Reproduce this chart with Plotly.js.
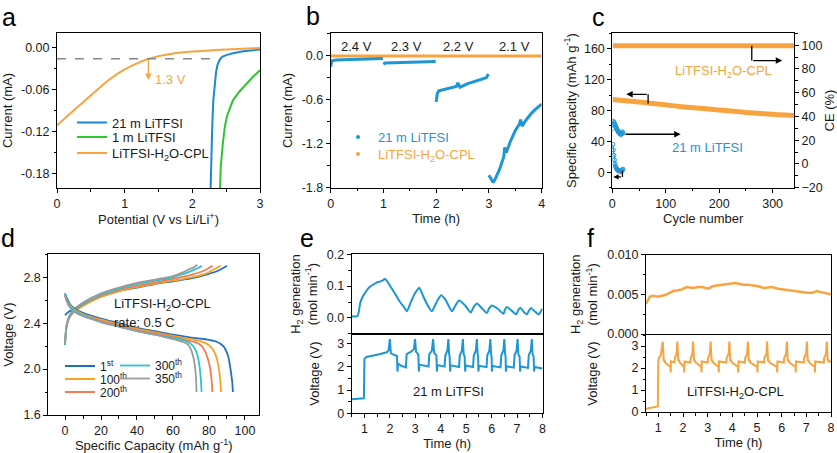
<!DOCTYPE html>
<html><head><meta charset="utf-8">
<script src="https://cdn.plot.ly/plotly-3.0.1.min.js"></script>
<style>html,body{margin:0;padding:0;background:#fff;}#chart{width:837px;height:453px;}</style>
</head><body><div id="chart"></div>
<script>
// ---------- Panel a: LSV ----------
const aBlueV   = [2.27, 2.28, 2.295, 2.31, 2.33, 2.35, 2.37, 2.40, 2.44, 2.50, 2.60, 2.75, 3.00];
const aBlueI   = [-0.200, -0.150, -0.110, -0.075, -0.050, -0.035, -0.025, -0.018, -0.013, -0.0105, -0.008, -0.005, -0.0025];
const aGreenV  = [2.41, 2.42, 2.45, 2.48, 2.51, 2.55, 2.60, 2.70, 2.80, 2.90, 3.00];
const aGreenI  = [-0.200, -0.170, -0.137, -0.113, -0.098, -0.088, -0.075, -0.062, -0.051, -0.041, -0.032];
const aOrangeV = [0, 0.2, 0.4, 0.6, 0.8, 1.0, 1.2, 1.35, 1.5, 1.7, 2.0, 2.5, 3.0];
const aOrangeI = [-0.1105, -0.0935, -0.0765, -0.0595, -0.0435, -0.031, -0.0215, -0.016, -0.012, -0.0085, -0.0055, -0.0025, -0.0005];
const aOnsetI = -0.0157, aOnsetV = 1.35;
const aYTicks = [-0.18, -0.12, -0.06, 0];
const aYText  = ['-0.18', '-0.12', '-0.06', '0.00'];

// ---------- Panel b: chronoamperometry ----------
const bTime21 = [0, 0.02, 0.1, 0.3, 0.5, 0.7, 0.99, null, 1.0, 1.03, 1.2, 1.5, 1.8, 1.99, null,
  2.0, 2.02, 2.05, 2.15, 2.3, 2.38, 2.41, 2.45, 2.6, 2.8, 2.95, 2.99, null,
  3.0, 3.05, 3.08, 3.12, 3.2, 3.28, 3.3, 3.33, 3.4, 3.5, 3.58, 3.6, 3.63, 3.7, 3.8, 3.9, 4.0];
const bCurr21 = [-0.15, -0.07, -0.06, -0.055, -0.05, -0.045, -0.04, null, -0.12, -0.10, -0.095, -0.09, -0.085, -0.08, null,
  -0.63, -0.52, -0.48, -0.46, -0.44, -0.42, -0.37, -0.43, -0.38, -0.33, -0.30, -0.25, null,
  -1.63, -1.70, -1.73, -1.68, -1.55, -1.38, -1.25, -1.32, -1.18, -1.02, -0.93, -0.87, -0.96, -0.88, -0.79, -0.72, -0.66];
const bTimeCPL = [0, 0.5, 1, 1.5, 2, 2.5, 3, 3.5, 4];
const bCurrCPL = [-0.006, -0.006, -0.006, -0.006, -0.006, -0.006, -0.006, -0.006, -0.006];
const bStepLabels = ['2.4 V', '2.3 V', '2.2 V', '2.1 V'];
const bStepTimes  = [0.48, 1.44, 2.42, 3.49];
const bYTicks = [-1.8, -1.2, -0.6, 0];
const bYText  = ['-1.8', '-1.2', '-0.6', '0.0'];

// ---------- Panel c: cycling ----------
const cCycleCPL = [1, 10, 25, 50, 70, 90, 130, 170, 210, 250, 290, 340];
const cCapCPL   = [94.5, 93.5, 92.5, 91, 89.5, 88, 85, 82.5, 80, 77.5, 75.5, 73.5];
const cCECycleCPL = [1, 50, 100, 150, 200, 250, 300, 340];
const cCECPL      = [99.6, 99.6, 99.6, 99.6, 99.6, 99.6, 99.6, 99.6];
const c21Cycle = [1, 2, 3, 4, 5, 6, 7, 8, 9, 10, 11, 12, 13, 14, 15, 16, 17, 18, 19, 20];
const c21Cap   = [36, 29, 22, 16, 11, 8, 6, 4.5, 3.5, 3, 2.5, 2, 2, 1.5, 1.5, 1.5, 1.5, 2, 3, 4];
const c21CE    = [30, 36, 35, 34, 33, 32, 31, 30, 29, 28, 27, 27, 26, 26, 25, 25, 25, 26, 27, 26];

// ---------- Panel d: charge/discharge profiles ----------
const dNames = ['1<sup>st</sup>', '100<sup>th</sup>', '200<sup>th</sup>', '300<sup>th</sup>', '350<sup>th</sup>'];
const dDisCap = [
  [0, 1, 3, 6, 10, 20, 30, 40, 50, 60, 70, 78, 84, 88, 90.5, 92, 93, 93.3],
  [0, 1, 3, 6, 10, 20, 30, 40, 50, 60, 70, 76, 80, 83, 85, 86.2, 86.7],
  [0, 1, 3, 6, 10, 20, 30, 40, 50, 60, 68, 73, 76, 78.5, 80.5, 81.5, 81.9],
  [0, 1, 3, 6, 10, 20, 30, 40, 50, 60, 66, 70, 72.5, 74.2, 75.3, 75.9],
  [0, 1, 3, 6, 10, 20, 30, 40, 50, 60, 65, 68.5, 70.5, 72, 72.8, 73.1]];
const dDisV = [
  [2.66, 2.62, 2.56, 2.52, 2.49, 2.44, 2.40, 2.36, 2.33, 2.30, 2.275, 2.26, 2.24, 2.20, 2.12, 2.00, 1.88, 1.80],
  [2.65, 2.60, 2.55, 2.51, 2.48, 2.43, 2.39, 2.35, 2.32, 2.29, 2.26, 2.24, 2.21, 2.15, 2.05, 1.92, 1.80],
  [2.64, 2.59, 2.54, 2.50, 2.47, 2.42, 2.38, 2.34, 2.31, 2.28, 2.25, 2.23, 2.20, 2.13, 2.02, 1.90, 1.80],
  [2.66, 2.60, 2.54, 2.50, 2.47, 2.41, 2.37, 2.33, 2.30, 2.27, 2.25, 2.22, 2.17, 2.08, 1.95, 1.80],
  [2.65, 2.59, 2.53, 2.49, 2.46, 2.41, 2.37, 2.33, 2.30, 2.26, 2.24, 2.21, 2.15, 2.05, 1.92, 1.80]];
const dChCap = [
  [0, 2, 5, 10, 20, 30, 40, 50, 60, 70, 78, 84, 88, 90],
  [0, 1, 2.5, 5, 10, 20, 30, 40, 50, 60, 70, 78, 83, 86.5],
  [0, 1, 2.5, 5, 10, 20, 30, 40, 50, 60, 70, 76, 80, 82],
  [0, 1, 2.5, 5, 10, 20, 30, 40, 50, 60, 66, 71, 74, 76],
  [0, 1, 2.5, 5, 10, 20, 30, 40, 50, 60, 65, 69, 72, 73.5]];
const dChV = [
  [2.47, 2.50, 2.52, 2.56, 2.63, 2.68, 2.71, 2.74, 2.765, 2.79, 2.82, 2.85, 2.88, 2.90],
  [2.22, 2.38, 2.45, 2.50, 2.55, 2.63, 2.68, 2.715, 2.745, 2.77, 2.80, 2.83, 2.87, 2.90],
  [2.21, 2.38, 2.45, 2.50, 2.56, 2.64, 2.69, 2.725, 2.755, 2.785, 2.82, 2.85, 2.88, 2.90],
  [2.21, 2.39, 2.46, 2.51, 2.57, 2.65, 2.70, 2.74, 2.77, 2.80, 2.83, 2.86, 2.88, 2.90],
  [2.22, 2.40, 2.47, 2.52, 2.58, 2.66, 2.71, 2.75, 2.78, 2.81, 2.84, 2.87, 2.89, 2.91]];
const dColors = ['#1f70c1', '#f5a320', '#f57a55', '#29c3d3', '#9b9b9b'];
const dYTicks = [1.6, 2.0, 2.4, 2.8];
const dYText  = ['1.6', '2.0', '2.4', '2.8'];

// ---------- Panel e: 21 m LiTFSI, H2 + voltage ----------
const eH2Time = [0.5, 0.72, 0.78, 0.83, 0.92, 1.02, 1.12, 1.22, 1.35, 1.48, 1.6, 1.74, 1.8, 1.87, 2.07, 2.25, 2.4, 2.55, 2.67,
  2.8, 2.95, 3.05, 3.16, 3.3, 3.45, 3.65, 3.75, 3.88, 4.02, 4.2, 4.44, 4.55, 4.72, 4.95, 5.18, 5.28, 5.42, 5.6, 5.81,
  5.9, 6.01, 6.25, 6.47, 6.52, 6.6, 6.8, 6.97, 7.05, 7.13, 7.25, 7.39, 7.46, 7.55, 7.7, 7.85, 7.93, 8.0];
const eH2 = [0.005, 0.005, 0.02, 0.045, 0.065, 0.078, 0.09, 0.098, 0.105, 0.111, 0.114, 0.119, 0.123, 0.118, 0.093, 0.07, 0.05, 0.035, 0.021,
  0.045, 0.072, 0.085, 0.095, 0.07, 0.045, 0.021, 0.035, 0.056, 0.071, 0.055, 0.021, 0.035, 0.055, 0.04, 0.017, 0.032, 0.045, 0.032, 0.015,
  0.03, 0.039, 0.028, 0.013, 0.025, 0.034, 0.022, 0.011, 0.025, 0.032, 0.02, 0.011, 0.022, 0.031, 0.02, 0.011, 0.02, 0.029];
const eVTime = [0.5, 0.98, 1.0, 1.08, 1.5, 1.88, 1.95, 2.0, 2.04, 2.1, 2.28, 2.3, 2.32, 2.45, 2.63, 2.66, 2.85, 2.95, 2.99,
  3.03, 3.12, 3.14, 3.16, 3.52, 3.55, 3.65, 3.7, 3.74, 3.83, 3.85, 3.87, 4.15, 4.18, 4.26, 4.3,
  4.33, 4.35, 4.37, 4.39, 4.72, 4.75, 4.83, 4.87, 4.9, 4.94, 4.96, 4.98, 5.27, 5.3, 5.38, 5.42,
  5.45, 5.47, 5.48, 5.5, 5.8, 5.83, 5.91, 5.95, 5.98, 6.0, 6.01, 6.03, 6.35, 6.38, 6.46, 6.5,
  6.53, 6.55, 6.56, 6.58, 6.87, 6.9, 6.98, 7.02, 7.05, 7.1, 7.12, 7.14, 7.43, 7.46, 7.54, 7.58,
  7.61, 7.65, 7.67, 7.69, 8.0];
const eV = [0.61, 0.65, 2.35, 2.43, 2.53, 2.63, 2.72, 3.2, 2.6, 2.55, 2.47, 1.8, 2.15, 2.05, 1.98, 2.55, 2.67, 2.78, 3.2,
  2.65, 2.55, 1.8, 2.1, 2.02, 2.55, 2.7, 3.2, 2.6, 2.5, 1.8, 2.08, 2.02, 2.5, 2.7, 3.2,
  2.55, 2.45, 1.8, 2.07, 2.0, 2.5, 2.7, 3.2, 2.55, 2.45, 1.8, 2.06, 2.0, 2.5, 2.7, 3.2,
  2.55, 2.45, 1.8, 2.05, 1.99, 2.5, 2.7, 3.2, 2.55, 2.45, 1.8, 2.04, 1.98, 2.5, 2.7, 3.2,
  2.55, 2.45, 1.8, 2.03, 1.97, 2.5, 2.7, 3.2, 2.55, 2.45, 1.8, 2.02, 1.96, 2.5, 2.7, 3.2,
  2.55, 2.45, 1.8, 2.0, 1.93];
const eYTicksH2 = [0, 0.1, 0.2];
const eYTextH2  = ['0.0', '0.1', '0.2'];

// ---------- Panel f: LiTFSI-H2O-CPL, H2 + voltage ----------
const fH2Time = [0.5, 0.58, 0.66, 0.8, 1.0, 1.27, 1.45, 1.61, 1.8, 1.95, 2.15, 2.3, 2.42, 2.6, 2.76, 3.03, 3.2, 3.37, 3.6, 3.78,
  3.95, 4.12, 4.3, 4.46, 4.66, 4.86, 5.05, 5.27, 5.45, 5.61, 5.85, 6.08, 6.35, 6.63, 6.85, 7.03, 7.25, 7.44, 7.55, 7.71, 7.85, 8.0];
const fH2 = [0.0038, 0.0043, 0.0047, 0.0048, 0.0047, 0.0049, 0.0052, 0.0054, 0.0055, 0.0056, 0.0059, 0.0058, 0.0058, 0.0059, 0.0059, 0.0057, 0.006, 0.0061, 0.0062, 0.0062,
  0.0063, 0.0064, 0.0063, 0.0062, 0.0062, 0.0061, 0.006, 0.0058, 0.0059, 0.0059, 0.0057, 0.0056, 0.0055, 0.0054, 0.0053, 0.0052, 0.0052, 0.0054, 0.0053, 0.0052, 0.0051, 0.005];
const fVTime = [0.5, 0.98, 1.0, 1.1, 1.18,
  1.22, 1.25, 1.28, 1.49, 1.5, 1.51, 1.66, 1.67, 1.74, 1.77,
  1.81, 1.84, 1.87, 2.04, 2.05, 2.06, 2.3, 2.31, 2.38, 2.41,
  2.45, 2.48, 2.51, 2.74, 2.75, 2.76, 3.0, 3.01, 3.09, 3.12,
  3.16, 3.19, 3.22, 3.44, 3.45, 3.46, 3.76, 3.77, 3.85, 3.88,
  3.92, 3.95, 3.98, 4.23, 4.24, 4.25, 4.51, 4.52, 4.6, 4.63,
  4.67, 4.7, 4.73, 5.01, 5.02, 5.03, 5.29, 5.3, 5.38, 5.41,
  5.45, 5.48, 5.51, 5.81, 5.82, 5.83, 6.09, 6.1, 6.18, 6.21,
  6.25, 6.28, 6.31, 6.56, 6.57, 6.58, 6.9, 6.91, 6.99, 7.02,
  7.06, 7.09, 7.12, 7.34, 7.35, 7.36, 7.71, 7.72, 7.8, 7.83,
  7.87, 7.9, 7.93, 8.0];
const fV = [0.15, 0.25, 2.4, 2.6, 3.2,
  2.3, 2.38, 2.25, 2.05, 1.8, 2.3, 2.25, 2.45, 2.65, 3.2,
  2.3, 2.38, 2.25, 2.05, 1.8, 2.3, 2.25, 2.45, 2.65, 3.2,
  2.3, 2.38, 2.25, 2.05, 1.8, 2.3, 2.25, 2.45, 2.65, 3.2,
  2.3, 2.38, 2.25, 2.05, 1.8, 2.3, 2.25, 2.45, 2.65, 3.2,
  2.3, 2.38, 2.25, 2.05, 1.8, 2.3, 2.25, 2.45, 2.65, 3.2,
  2.3, 2.38, 2.25, 2.05, 1.8, 2.3, 2.25, 2.45, 2.65, 3.2,
  2.3, 2.38, 2.25, 2.05, 1.8, 2.3, 2.25, 2.45, 2.65, 3.2,
  2.3, 2.38, 2.25, 2.05, 1.8, 2.3, 2.25, 2.45, 2.65, 3.2,
  2.3, 2.38, 2.25, 2.05, 1.8, 2.3, 2.25, 2.45, 2.65, 3.2,
  2.3, 2.38, 2.28, 2.28];
const fYTicksH2 = [0, 0.005, 0.01];
const fYTextH2  = ['0.000', '0.005', '0.010'];
const timeTicks = [1, 2, 3, 4, 5, 6, 7, 8];

// ---------- styling ----------
const W = 837, H = 453;
const BLUE = '#1c96d4', GREEN = '#2fc52f', ORANGE = '#f7a440', INK = '#1a1a1a';
const FONT = 'Liberation Sans, Arial, Helvetica, sans-serif';
const X = (a, b) => [a / W, b / W];
const Y = (t, b) => [1 - b / H, 1 - t / H];
function ax(o) {
  return Object.assign({
    showline: true, linecolor: '#000', linewidth: 1, mirror: true,
    ticks: 'outside', ticklen: 4, tickwidth: 1, tickcolor: '#000',
    showgrid: false, zeroline: false, automargin: false, fixedrange: true,
    tickfont: {size: 12.5, color: INK}
  }, o);
}
function mn(d) { return {ticks: 'outside', ticklen: 2.5, tickwidth: 1, tickcolor: '#000', dtick: d, showgrid: false}; }
function ttl(t, s) { return {text: t, standoff: s, font: {size: 13, color: INK}}; }
function leg(xpx, ypx, color, size) {
  return {bgcolor: 'rgba(0,0,0,0)', borderwidth: 0, xanchor: 'left', yanchor: 'middle', itemwidth: 30,
    tracegroupgap: 0, itemclick: false, itemdoubleclick: false,
    x: xpx / W, y: 1 - ypx / H, font: {size: size || 13, color: color, family: FONT}};
}

const traces = [];
// a
traces.push({x: aBlueV, y: aBlueI, xaxis: 'x', yaxis: 'y', mode: 'lines', name: '21 m LiTFSI', line: {color: '#1a8ad0', width: 2}, legend: 'legend'});
traces.push({x: aGreenV, y: aGreenI, xaxis: 'x', yaxis: 'y', mode: 'lines', name: '1 m LiTFSI', line: {color: GREEN, width: 2}, legend: 'legend6'});
traces.push({x: aOrangeV, y: aOrangeI, xaxis: 'x', yaxis: 'y', mode: 'lines', name: 'LiTFSI-H<sub>2</sub>O-CPL', line: {color: ORANGE, width: 2, shape: 'spline'}, legend: 'legend7'});
// b
traces.push({x: bTimeCPL, y: bCurrCPL, xaxis: 'x2', yaxis: 'y2', mode: 'lines', line: {color: ORANGE, width: 3}, showlegend: false});
traces.push({x: bTime21, y: bCurr21, xaxis: 'x2', yaxis: 'y2', mode: 'lines', line: {color: BLUE, width: 3}, showlegend: false});
traces.push({x: [null], y: [null], xaxis: 'x2', yaxis: 'y2', mode: 'markers', marker: {color: BLUE, size: 4}, name: '21 m LiTFSI', legend: 'legend2'});
traces.push({x: [null], y: [null], xaxis: 'x2', yaxis: 'y2', mode: 'markers', marker: {color: ORANGE, size: 4}, name: 'LiTFSI-H<sub>2</sub>O-CPL', legend: 'legend3'});
// c
traces.push({x: cCECycleCPL, y: cCECPL, xaxis: 'x3', yaxis: 'y4', mode: 'lines', line: {color: ORANGE, width: 5}, showlegend: false});
traces.push({x: cCycleCPL, y: cCapCPL, xaxis: 'x3', yaxis: 'y3', mode: 'lines', line: {color: ORANGE, width: 5, shape: 'spline'}, showlegend: false});
traces.push({x: c21Cycle, y: c21Cap, xaxis: 'x3', yaxis: 'y3', mode: 'lines+markers', line: {color: BLUE, width: 1}, marker: {color: BLUE, size: 4, symbol: 'circle-open', line: {width: 1}}, showlegend: false});
traces.push({x: c21Cycle, y: c21CE, xaxis: 'x3', yaxis: 'y4', mode: 'lines+markers', line: {color: BLUE, width: 1}, marker: {color: BLUE, size: 4, symbol: 'circle-open', line: {width: 1}}, showlegend: false});
// d
for (let i = 0; i < 5; i++) {
  traces.push({x: dChCap[i], y: dChV[i], xaxis: 'x4', yaxis: 'y5', mode: 'lines', line: {color: dColors[i], width: 1.8, shape: 'spline'}, showlegend: false});
}
const dLegends = ['legend4', 'legend5', 'legend8', 'legend9', 'legend10'];
for (let i = 0; i < 5; i++) {
  traces.push({x: dDisCap[i], y: dDisV[i], xaxis: 'x4', yaxis: 'y5', mode: 'lines', name: dNames[i], line: {color: dColors[i], width: 1.8, shape: 'spline'}, legend: dLegends[i]});
}
// e
traces.push({x: eH2Time, y: eH2, xaxis: 'x5', yaxis: 'y6', mode: 'lines', line: {color: BLUE, width: 2, shape: 'spline', smoothing: 0.6}, showlegend: false});
traces.push({x: eVTime, y: eV, xaxis: 'x6', yaxis: 'y7', mode: 'lines', line: {color: BLUE, width: 2}, showlegend: false});
// f
traces.push({x: fH2Time, y: fH2, xaxis: 'x7', yaxis: 'y8', mode: 'lines', line: {color: ORANGE, width: 2.5}, showlegend: false});
traces.push({x: fVTime, y: fV, xaxis: 'x8', yaxis: 'y9', mode: 'lines', line: {color: ORANGE, width: 2}, showlegend: false});

const layout = {
  width: W, height: H, margin: {l: 0, r: 0, t: 0, b: 0},
  paper_bgcolor: '#fff', plot_bgcolor: 'rgba(0,0,0,0)',
  font: {family: FONT, size: 13, color: INK},
  xaxis:  ax({domain: X(57, 260), anchor: 'y', range: [0, 3], tickvals: [0, 1, 2, 3], minor: mn(0.5), title: ttl('Potential (V vs Li/Li<sup>+</sup>)', 2)}),
  yaxis:  ax({domain: Y(33, 188), anchor: 'x', range: [-0.2, 0.021], tickvals: aYTicks, ticktext: aYText, minor: mn(0.03), title: ttl('Current (mA)', 7)}),
  xaxis2: ax({domain: X(330.7, 541.7), anchor: 'y2', range: [0, 4], tickvals: [0, 1, 2, 3, 4], minor: mn(0.5), title: ttl('Time (h)', 2)}),
  yaxis2: ax({domain: Y(33.3, 187.7), anchor: 'x2', range: [-1.8, 0.305], tickvals: bYTicks, ticktext: bYText, minor: mn(0.3), title: ttl('Current (mA)', 6)}),
  xaxis3: ax({domain: X(612.3, 794), anchor: 'y3', range: [0, 340], tickvals: [0, 100, 200, 300], minor: mn(50), title: ttl('Cycle number', 2)}),
  yaxis3: ax({domain: Y(33.3, 187.7), anchor: 'x3', range: [-20, 180], tickvals: [0, 40, 80, 120, 160], minor: mn(20), title: ttl('Specific capacity (mAh g<sup>-1</sup>)', 4)}),
  yaxis4: ax({overlaying: 'y3', side: 'right', anchor: 'x3', mirror: false, range: [-20, 110], tickvals: [-20, 0, 20, 40, 60, 80, 100], minor: mn(10), title: ttl('CE (%)', 4)}),
  xaxis4: ax({domain: X(48.3, 259.3), anchor: 'y5', range: [-9.3, 108], tickvals: [0, 20, 40, 60, 80, 100], minor: mn(10), title: ttl('Specific Capacity (mAh g<sup>-1</sup>)', 2)}),
  yaxis5: ax({domain: Y(254.3, 415), anchor: 'x4', range: [1.6, 3.0], tickvals: dYTicks, ticktext: dYText, minor: mn(0.2), title: ttl('Voltage (V)', 6)}),
  xaxis5: ax({domain: X(351.7, 542.5), anchor: 'y6', range: [0.5, 8], tickvals: timeTicks, showticklabels: false, ticks: ''}),
  yaxis6: ax({domain: Y(254.3, 333.8), anchor: 'x5', range: [-0.05, 0.2], tickvals: eYTicksH2, ticktext: eYTextH2, minor: mn(0.05), title: ttl('H<sub>2</sub> generation<br>(mol min<sup>-1</sup>)', 6)}),
  xaxis6: ax({domain: X(351.7, 542.5), anchor: 'y7', range: [0.5, 8], tickvals: timeTicks, minor: mn(0.5), title: ttl('Time (h)', 2)}),
  yaxis7: ax({domain: Y(333.8, 413.3), anchor: 'x6', range: [0, 3.43], tickvals: [0, 1, 2, 3], minor: mn(0.5), title: ttl('Voltage (V)', 14)}),
  xaxis7: ax({domain: X(646, 831), anchor: 'y8', range: [0.5, 8], tickvals: timeTicks, showticklabels: false, ticks: ''}),
  yaxis8: ax({domain: Y(254.5, 334), anchor: 'x7', range: [0, 0.01], tickvals: fYTicksH2, ticktext: fYTextH2, minor: mn(0.0025), title: ttl('H<sub>2</sub> generation<br>(mol min<sup>-1</sup>)', 6)}),
  xaxis8: ax({domain: X(646, 831), anchor: 'y9', range: [0.5, 8], tickvals: timeTicks, minor: mn(0.5), title: ttl('Time (h)', 2)}),
  yaxis9: ax({domain: Y(335, 412), anchor: 'x8', range: [0, 3.5], tickvals: [0, 1, 2, 3], minor: mn(0.5), title: ttl('Voltage (V)', 30)}),
  legend:   leg(72, 122.5, INK),
  legend6:  leg(72, 137, INK),
  legend7:  leg(72, 153, INK),
  legend2:  leg(338, 137, BLUE),
  legend3:  leg(338, 154, ORANGE),
  legend4:  leg(60, 366, INK, 12),
  legend5:  leg(60, 379, INK, 12),
  legend8:  leg(60, 392, INK, 12),
  legend9:  leg(115, 365.5, INK, 12),
  legend10: leg(115, 378.5, INK, 12),
  shapes: [
    {type: 'line', xref: 'x', yref: 'y', x0: 0, x1: 2.4, y0: aOnsetI, y1: aOnsetI, line: {color: '#888', width: 1.3, dash: 'dash'}},
    {type: 'line', xref: 'x3', yref: 'y4', x0: 261, x1: 261, y0: 99.6, y1: 87, line: {color: '#000', width: 1.3}},
    {type: 'line', xref: 'x3', yref: 'y3', x0: 67, x1: 67, y0: 89, y1: 101, line: {color: '#000', width: 1.3}},
    {type: 'line', xref: 'x3', yref: 'y3', x0: 19, x1: 19, y0: 2, y1: -6, line: {color: '#000', width: 1.3}}
  ],
  annotations: []
};
const ann = layout.annotations;
// panel letters
[['a', 9, 1], ['b', 313, 0], ['c', 598, 1], ['d', 8, 222], ['e', 307, 222], ['f', 590, 222]].forEach(p => {
  ann.push({xref: 'paper', yref: 'paper', x: p[1] / W, y: 1 - p[2] / H, text: p[0], showarrow: false, xanchor: 'center', yanchor: 'top', font: {size: 25, color: '#000'}});
});
// a: onset arrow and label
ann.push({xref: 'x', yref: 'y', axref: 'x', ayref: 'y', x: aOnsetV, y: -0.046, ax: aOnsetV, ay: aOnsetI, text: '', showarrow: true, arrowhead: 2, arrowsize: 1, arrowwidth: 1.3, arrowcolor: ORANGE});
ann.push({xref: 'x', yref: 'y', x: 1.42, y: -0.046, text: '1.3 V', showarrow: false, xanchor: 'left', yanchor: 'middle', font: {size: 13, color: ORANGE}});
// b: step labels
bStepLabels.forEach((t, i) => ann.push({xref: 'x2', yref: 'y2', x: bStepTimes[i], y: 0.123, text: t, showarrow: false, xanchor: 'center', yanchor: 'middle', font: {size: 13, color: INK}}));
// c: arrows and labels
ann.push({xref: 'x3', yref: 'y4', axref: 'x3', ayref: 'y4', x: 318, y: 87, ax: 261, ay: 87, text: '', showarrow: true, arrowhead: 2, arrowsize: 1, arrowwidth: 1.3, arrowcolor: '#000'});
ann.push({xref: 'x3', yref: 'y3', axref: 'x3', ayref: 'y3', x: 26, y: 101, ax: 67, ay: 101, text: '', showarrow: true, arrowhead: 2, arrowsize: 1, arrowwidth: 1.3, arrowcolor: '#000'});
ann.push({xref: 'x3', yref: 'y4', axref: 'x3', ayref: 'y4', x: 128, y: 25, ax: 22, ay: 25, text: '', showarrow: true, arrowhead: 2, arrowsize: 1, arrowwidth: 1.3, arrowcolor: '#000'});
ann.push({xref: 'x3', yref: 'y3', axref: 'x3', ayref: 'y3', x: 2, y: -6, ax: 19, ay: -6, text: '', showarrow: true, arrowhead: 2, arrowsize: 0.8, arrowwidth: 1.3, arrowcolor: '#000'});
ann.push({xref: 'x3', yref: 'y3', x: 208, y: 130, text: 'LiTFSI-H<sub>2</sub>O-CPL', showarrow: false, xanchor: 'center', yanchor: 'middle', font: {size: 13, color: ORANGE}});
ann.push({xref: 'x3', yref: 'y3', x: 178, y: 32, text: '21 m LiTFSI', showarrow: false, xanchor: 'center', yanchor: 'middle', font: {size: 13, color: BLUE}});
// d: text
ann.push({xref: 'x4', yref: 'y5', x: 26, y: 2.56, text: 'LiTFSI-H<sub>2</sub>O-CPL', showarrow: false, xanchor: 'left', yanchor: 'middle', font: {size: 13, color: INK}});
ann.push({xref: 'x4', yref: 'y5', x: 26, y: 2.41, text: 'rate: 0.5 C', showarrow: false, xanchor: 'left', yanchor: 'middle', font: {size: 13, color: INK}});
// e, f labels
ann.push({xref: 'x6', yref: 'y7', x: 4.3, y: 0.94, text: '21 m LiTFSI', showarrow: false, xanchor: 'center', yanchor: 'middle', font: {size: 13, color: INK}});
ann.push({xref: 'x8', yref: 'y9', x: 4.12, y: 0.87, text: 'LiTFSI-H<sub>2</sub>O-CPL', showarrow: false, xanchor: 'center', yanchor: 'middle', font: {size: 13, color: INK}});

Plotly.newPlot('chart', traces, layout, {staticPlot: true, displayModeBar: false});
</script></body></html>
